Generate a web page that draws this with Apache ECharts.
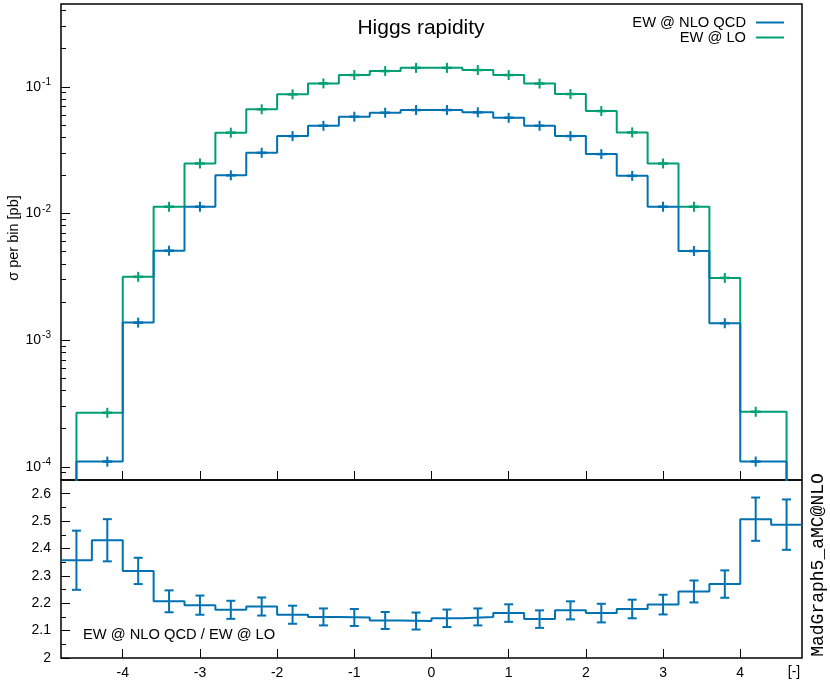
<!DOCTYPE html>
<html>
<head>
<meta charset="utf-8">
<title>Higgs rapidity</title>
<script src="https://cdn.jsdelivr.net/npm/echarts@6/dist/echarts.min.js"></script>
<style>
  html, body { margin: 0; padding: 0; background: #fff; }
  #chart { width: 830px; height: 684px; }
</style>
</head>
<body>
<div id="chart"></div>
<script>
// bin centres (rapidity), bins are 0.4 wide
const binCenters = [-4.6, -4.2, -3.8, -3.4, -3.0, -2.6, -2.2, -1.8, -1.4, -1.0, -0.6, -0.2,
                    0.2, 0.6, 1.0, 1.4, 1.8, 2.2, 2.6, 3.0, 3.4, 3.8, 4.2, 4.6];
const binWidth = 0.4;

// sigma per bin [pb], 0 = empty bin in the upper panel
const sigmaLO = [0, 2.67e-4, 3.16e-3, 0.01129, 0.0248, 0.0434, 0.0664, 0.0871, 0.1063, 0.1237, 0.133, 0.141,
                 0.141, 0.1355, 0.1237, 0.106, 0.0876, 0.0643, 0.0436, 0.0248, 0.0113, 3.1e-3, 2.72e-4, 0];
const sigmaNLO = [0, 1.10e-4, 1.375e-3, 5.08e-3, 0.0113, 0.0200, 0.0301, 0.0408, 0.0492, 0.0580, 0.0624, 0.0655,
                  0.0655, 0.0628, 0.0569, 0.0492, 0.0408, 0.0294, 0.0198, 0.0113, 5.05e-3, 1.36e-3, 1.10e-4, 0];

// ratio panel
const ratio = [2.357, 2.430, 2.318, 2.207, 2.193, 2.176, 2.188, 2.158, 2.150, 2.148, 2.137, 2.135,
               2.145, 2.150, 2.164, 2.142, 2.174, 2.164, 2.179, 2.195, 2.243, 2.270, 2.507, 2.487];
const ratioErr = [0.108, 0.077, 0.048, 0.040, 0.035, 0.033, 0.033, 0.033, 0.031, 0.031, 0.031, 0.031,
                  0.032, 0.031, 0.032, 0.032, 0.033, 0.034, 0.034, 0.036, 0.040, 0.050, 0.079, 0.092];

// ticks
const xTicks = [-4, -3, -2, -1, 0, 1, 2, 3, 4];
const logMajor = [1e-4, 1e-3, 1e-2, 1e-1];
const logMinor = [9e-5, 2e-4, 3e-4, 4e-4, 5e-4, 6e-4, 7e-4, 8e-4, 9e-4,
                  2e-3, 3e-3, 4e-3, 5e-3, 6e-3, 7e-3, 8e-3, 9e-3,
                  2e-2, 3e-2, 4e-2, 5e-2, 6e-2, 7e-2, 8e-2, 9e-2,
                  0.2, 0.3, 0.4];
const ratioMajor = [2, 2.1, 2.2, 2.3, 2.4, 2.5, 2.6];
const ratioMinor = [2.05, 2.15, 2.25, 2.35, 2.45, 2.55];

const blue = '#0072b2';
const green = '#009e73';
const font = 'Liberation Sans, Arial, sans-serif';
const floorVal = 1e-7; // drop below the axis for empty bins

// histogram outline; an empty neighbour bin makes the step start at its centre (like gnuplot)
function stepData(vals) {
  const pts = [];
  const n = vals.length;
  for (let i = 0; i < n; i++) {
    if (!(vals[i] > 0)) continue;
    let lo = binCenters[i] - binWidth / 2;
    let hi = binCenters[i] + binWidth / 2;
    if (i > 0 && !(vals[i - 1] > 0)) {
      lo = binCenters[i - 1];
      pts.push([lo, floorVal]);
    }
    const nextEmpty = i < n - 1 && !(vals[i + 1] > 0);
    if (nextEmpty) hi = binCenters[i + 1];
    pts.push([lo, vals[i]], [hi, vals[i]]);
    if (nextEmpty) pts.push([hi, floorVal]);
  }
  return pts;
}

function pointData(vals) {
  const out = [];
  vals.forEach((v, i) => { if (v > 0) out.push([binCenters[i], v]); });
  return out;
}

function crossSeries(vals, color) {
  return {
    type: 'custom',
    xAxisIndex: 0,
    yAxisIndex: 0,
    data: pointData(vals),
    silent: true,
    renderItem: function (params, api) {
      const p = api.coord([api.value(0), api.value(1)]);
      return {
        type: 'group',
        children: [
          { type: 'line', shape: { x1: p[0] - 5, y1: p[1], x2: p[0] + 5, y2: p[1] }, style: { stroke: color, lineWidth: 2.5 } },
          { type: 'line', shape: { x1: p[0], y1: p[1] - 5, x2: p[0], y2: p[1] + 5 }, style: { stroke: color, lineWidth: 2 } }
        ]
      };
    }
  };
}

function tickAxis(base) {
  return Object.assign({
    axisLine: { show: false, onZero: false },
    splitLine: { show: false }
  }, base);
}

const chart = echarts.init(document.getElementById('chart'));

const legendIcon = 'path://M0,0 L28,0 L28,2 L0,2 Z';

const option = {
  animation: false,
  backgroundColor: '#fff',
  textStyle: { fontFamily: font },
  grid: [
    { left: 61, right: 28, top: 4, height: 476, outerBoundsMode: 'none', containLabel: false,
      show: true, borderColor: '#000', borderWidth: 1.5, backgroundColor: 'transparent' },
    { left: 61, right: 28, top: 480, height: 178, outerBoundsMode: 'none', containLabel: false,
      show: true, borderColor: '#000', borderWidth: 1.5, backgroundColor: 'transparent' }
  ],
  legend: {
    orient: 'vertical',
    right: 46,
    top: 15,
    padding: 0,
    align: 'right',
    itemWidth: 28,
    itemHeight: 2,
    itemGap: 0,
    data: [
      { name: 'EW @ NLO QCD', icon: legendIcon },
      { name: 'EW @ LO', icon: legendIcon }
    ],
    textStyle: { fontSize: 14.7, lineHeight: 15, color: '#000', fontFamily: font, padding: [0, 5, 0, 0] }
  },
  xAxis: [
    tickAxis({
      gridIndex: 0, type: 'value', min: -4.8, max: 4.8, position: 'bottom',
      axisTick: { inside: true, length: 9, customValues: xTicks, lineStyle: { color: '#000' } },
      axisLabel: { show: false }
    }),
    tickAxis({
      gridIndex: 1, type: 'value', min: -4.8, max: 4.8, position: 'bottom',
      axisTick: { inside: true, length: 9, customValues: xTicks, lineStyle: { color: '#000' } },
      axisLabel: { customValues: xTicks, fontSize: 14, color: '#000', margin: 8, fontFamily: font }
    })
  ],
  yAxis: [
    tickAxis({
      gridIndex: 0, type: 'log', min: 7.87e-5, max: 0.45, position: 'left',
      axisTick: { inside: true, length: 9, customValues: logMajor, lineStyle: { color: '#000' } },
      axisLabel: {
        customValues: logMajor,
        margin: 10,
        formatter: function (v) {
          return '{b|10}{s|' + Math.round(Math.log10(v)) + '}';
        },
        rich: {
          b: { fontSize: 14, color: '#000', fontFamily: font },
          s: { fontSize: 10, color: '#000', fontFamily: font, padding: [0, 0, 9, 1] }
        }
      }
    }),
    tickAxis({
      gridIndex: 0, type: 'log', min: 7.87e-5, max: 0.45, position: 'left', offset: 0,
      axisTick: { inside: true, length: 5, customValues: logMinor, lineStyle: { color: '#000' } },
      axisLabel: { show: false }
    }),
    tickAxis({
      gridIndex: 1, type: 'value', min: 2, max: 2.65, position: 'left',
      axisTick: { inside: true, length: 9, customValues: ratioMajor, lineStyle: { color: '#000' } },
      axisLabel: { customValues: ratioMajor, fontSize: 14, color: '#000', margin: 10, fontFamily: font }
    }),
    tickAxis({
      gridIndex: 1, type: 'value', min: 2, max: 2.65, position: 'left', offset: 0,
      axisTick: { inside: true, length: 5, customValues: ratioMinor, lineStyle: { color: '#000' } },
      axisLabel: { show: false }
    })
  ],
  series: [
    {
      name: 'EW @ LO', type: 'line', xAxisIndex: 0, yAxisIndex: 0,
      data: stepData(sigmaLO), symbol: 'none', clip: true,
      color: green, lineStyle: { color: green, width: 2 }
    },
    {
      name: 'EW @ NLO QCD', type: 'line', xAxisIndex: 0, yAxisIndex: 0,
      data: stepData(sigmaNLO), symbol: 'none', clip: true,
      color: blue, lineStyle: { color: blue, width: 2 }
    },
    crossSeries(sigmaLO, green),
    crossSeries(sigmaNLO, blue),
    {
      name: 'ratio', type: 'line', xAxisIndex: 1, yAxisIndex: 2,
      data: stepData(ratio), symbol: 'none', clip: true,
      lineStyle: { color: blue, width: 2 }
    },
    {
      type: 'custom', xAxisIndex: 1, yAxisIndex: 2, silent: true,
      data: binCenters.map((c, i) => [c, ratio[i], ratioErr[i]]),
      renderItem: function (params, api) {
        const x = api.value(0), v = api.value(1), e = api.value(2);
        const top = api.coord([x, v + e]);
        const bot = api.coord([x, v - e]);
        const s = { stroke: blue, lineWidth: 2 };
        return {
          type: 'group',
          children: [
            { type: 'line', shape: { x1: top[0], y1: top[1], x2: bot[0], y2: bot[1] }, style: s },
            { type: 'line', shape: { x1: top[0] - 4.5, y1: top[1], x2: top[0] + 4.5, y2: top[1] }, style: s },
            { type: 'line', shape: { x1: bot[0] - 4.5, y1: bot[1], x2: bot[0] + 4.5, y2: bot[1] }, style: s }
          ]
        };
      }
    }
  ],
  graphic: [
    { type: 'text', x: 421, y: 28, style: { text: 'Higgs rapidity', fontSize: 21, fontFamily: font, fill: '#000', align: 'center', verticalAlign: 'middle' } },
    { type: 'text', x: 14, y: 238, rotation: Math.PI / 2, style: { text: 'σ per bin [pb]', fontSize: 14.5, fontFamily: font, fill: '#000', align: 'center', verticalAlign: 'middle' } },
    { type: 'text', x: 83, y: 635, style: { text: 'EW @ NLO QCD / EW @ LO', fontSize: 14.7, fontFamily: font, fill: '#000', align: 'left', verticalAlign: 'middle' } },
    { type: 'text', x: 794, y: 672, style: { text: '[-]', fontSize: 14, fontFamily: font, fill: '#000', align: 'center', verticalAlign: 'middle' } },
    { type: 'text', x: 818, y: 565, rotation: Math.PI / 2, style: { text: 'MadGraph5_aMC@NLO', fontSize: 18, fontFamily: 'Liberation Mono, monospace', fill: '#000', align: 'center', verticalAlign: 'middle' } }
  ]
};

chart.setOption(option);
</script>
</body>
</html>
